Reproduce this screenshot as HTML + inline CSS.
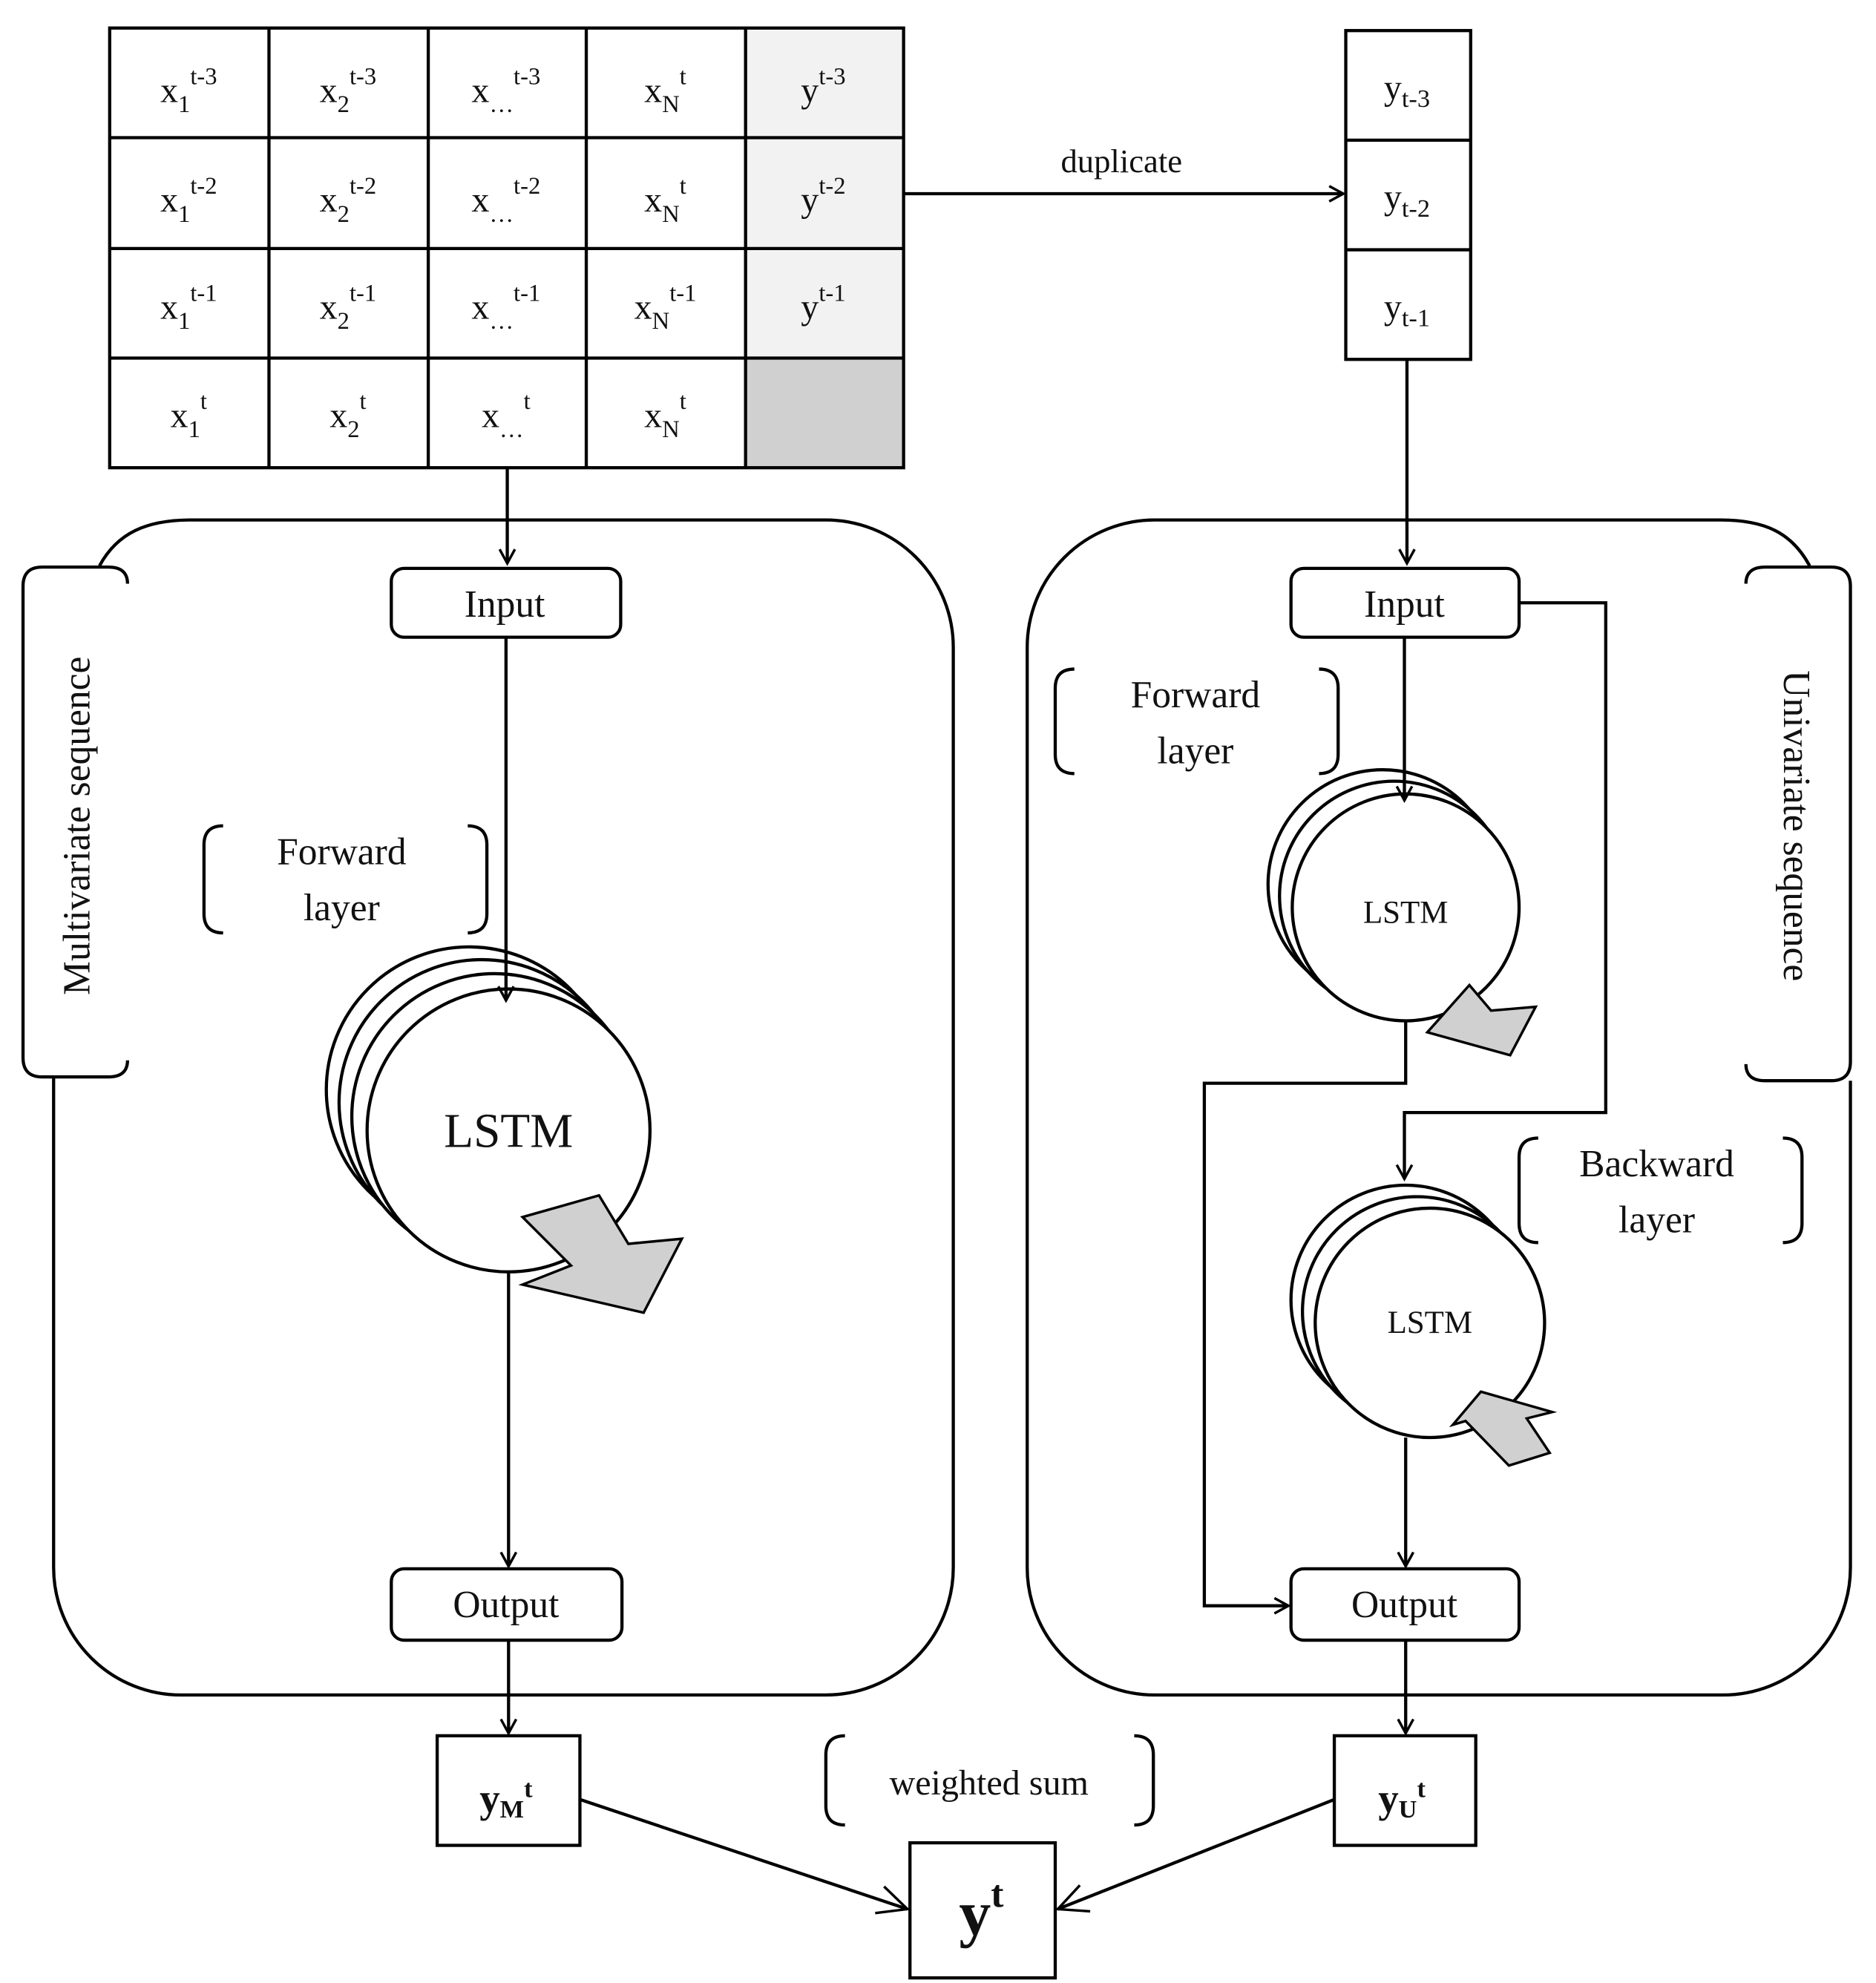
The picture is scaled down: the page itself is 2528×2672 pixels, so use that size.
<!DOCTYPE html>
<html><head><meta charset="utf-8"><style>html,body{margin:0;padding:0;background:#fff}svg{display:block}</style></head>
<body>
<svg width="2528" height="2672" viewBox="0 0 1472 1556" xmlns="http://www.w3.org/2000/svg" font-family="Liberation Serif, serif">
<defs>
<marker id="a" markerWidth="14" markerHeight="14" refX="12" refY="7" orient="auto" markerUnits="userSpaceOnUse">
<path d="M1,1 L12,7 L1,13" fill="none" stroke="#000" stroke-width="2"/></marker>
<marker id="b" markerWidth="26" markerHeight="26" refX="24" refY="13" orient="auto" markerUnits="userSpaceOnUse">
<path d="M1,2 L24,13 L1,24" fill="none" stroke="#000" stroke-width="2"/></marker>
</defs>
<g fill="none" stroke="#000" stroke-width="2.5">
<!-- table -->
<rect x="585" y="22" width="124" height="259" fill="#f2f2f2" stroke="none"/>
<rect x="585" y="281" width="124" height="86" fill="#d0d0d0" stroke="none"/>
<rect x="86" y="22" width="623" height="345"/>
<path d="M211,22V367M336,22V367M460,22V367M585,22V367M86,108H709M86,195H709M86,281H709"/>
<rect x="1056" y="24" width="98" height="258"/>
<path d="M1056,110H1154M1056,196H1154"/>
<!-- boxes -->
<path d="M78,444 C92,418 115,408 150,408 L648,408 A100,100 0 0 1 748,508 L748,1230 A100,100 0 0 1 648,1330 L142,1330 A100,100 0 0 1 42,1230 L42,845"/>
<path d="M100,458 Q100,445 85,445 L33,445 Q18,445 18,460 L18,830 Q18,845 33,845 L85,845 Q100,845 100,832"/>
<path d="M1420,444 C1406,418 1385,408 1350,408 L906,408 A100,100 0 0 0 806,508 L806,1230 A100,100 0 0 0 906,1330 L1352,1330 A100,100 0 0 0 1452,1230 L1452,848"/>
<path d="M1370,458 Q1370,445 1385,445 L1437,445 Q1452,445 1452,460 L1452,833 Q1452,848 1437,848 L1385,848 Q1370,848 1370,835"/>
<rect x="307" y="446" width="180" height="54" rx="10"/>
<rect x="1013" y="446" width="179" height="54" rx="10"/>
<rect x="307" y="1231" width="181" height="56" rx="10"/>
<rect x="1013" y="1231" width="179" height="56" rx="10"/>
<rect x="343" y="1362" width="112" height="86"/>
<rect x="714" y="1446" width="114" height="106"/>
<rect x="1047" y="1362" width="111" height="86"/>
<!-- brackets -->
<path d="M175,648 Q160,648 160,663 L160,717 Q160,732 175,732 M367,648 Q382,648 382,663 L382,717 Q382,732 367,732"/>
<path d="M843,525 Q828,525 828,540 L828,592 Q828,607 843,607 M1035,525 Q1050,525 1050,540 L1050,592 Q1050,607 1035,607"/>
<path d="M1207,893 Q1192,893 1192,908 L1192,960 Q1192,975 1207,975 M1399,893 Q1414,893 1414,908 L1414,960 Q1414,975 1399,975"/>
<path d="M663,1362 Q648,1362 648,1377 L648,1417 Q648,1432 663,1432 M890,1362 Q905,1362 905,1377 L905,1417 Q905,1432 890,1432"/>
<!-- left LSTM -->
<circle cx="368" cy="855" r="112" fill="#fff"/>
<circle cx="378" cy="865" r="112" fill="#fff"/>
<circle cx="388" cy="876" r="112" fill="#fff"/>
<circle cx="399" cy="887" r="111" fill="#fff"/>
<polygon points="410,955 470,938 493,976 535,972 505,1030 410,1008 448,993" fill="#d0d0d0" stroke-width="2"/>
<!-- right forward LSTM -->
<circle cx="1085" cy="694" r="90" fill="#fff"/>
<circle cx="1094" cy="703" r="90" fill="#fff"/>
<circle cx="1103" cy="712" r="89" fill="#fff"/>
<polygon points="1120,810 1153,773 1170,793 1205,790 1185,828" fill="#d0d0d0" stroke-width="2"/>
<!-- right backward LSTM -->
<circle cx="1103" cy="1020" r="90" fill="#fff"/>
<circle cx="1112" cy="1029" r="90" fill="#fff"/>
<circle cx="1122" cy="1038" r="90" fill="#fff"/>
<polygon points="1140,1118 1162,1092 1218,1108 1198,1113 1216,1140 1184,1150 1150,1115" fill="#d0d0d0" stroke-width="2"/>
<!-- connectors -->
<path d="M709,152H1054" marker-end="url(#a)"/>
<path d="M398,367V442" marker-end="url(#a)"/>
<path d="M397,500V785" marker-end="url(#a)"/>
<path d="M399,998V1229" marker-end="url(#a)"/>
<path d="M399,1287V1360" marker-end="url(#a)"/>
<path d="M455,1412L712,1498" marker-end="url(#b)"/>
<path d="M1047,1412L830,1498" marker-end="url(#b)"/>
<path d="M1104,282V442" marker-end="url(#a)"/>
<path d="M1102,500V628" marker-end="url(#a)"/>
<path d="M1103,801V850H945V1260H1011" marker-end="url(#a)"/>
<path d="M1192,473H1260V873H1102V925" marker-end="url(#a)"/>
<path d="M1103,1128V1229" marker-end="url(#a)"/>
<path d="M1103,1287V1360" marker-end="url(#a)"/>
</g>
<g font-size="28" text-anchor="middle" fill="#111">
<text x="148" y="80">x<tspan font-size="19" dy="8">1</tspan><tspan font-size="19" dy="-22">t-3</tspan></text>
<text x="273" y="80">x<tspan font-size="19" dy="8">2</tspan><tspan font-size="19" dy="-22">t-3</tspan></text>
<text x="397" y="80">x<tspan font-size="19" dy="8">…</tspan><tspan font-size="19" dy="-22">t-3</tspan></text>
<text x="522" y="80">x<tspan font-size="19" dy="8">N</tspan><tspan font-size="19" dy="-22">t</tspan></text>
<text x="646" y="80">y<tspan font-size="19" dy="-14">t-3</tspan></text>
<text x="148" y="166">x<tspan font-size="19" dy="8">1</tspan><tspan font-size="19" dy="-22">t-2</tspan></text>
<text x="273" y="166">x<tspan font-size="19" dy="8">2</tspan><tspan font-size="19" dy="-22">t-2</tspan></text>
<text x="397" y="166">x<tspan font-size="19" dy="8">…</tspan><tspan font-size="19" dy="-22">t-2</tspan></text>
<text x="522" y="166">x<tspan font-size="19" dy="8">N</tspan><tspan font-size="19" dy="-22">t</tspan></text>
<text x="646" y="166">y<tspan font-size="19" dy="-14">t-2</tspan></text>
<text x="148" y="250">x<tspan font-size="19" dy="8">1</tspan><tspan font-size="19" dy="-22">t-1</tspan></text>
<text x="273" y="250">x<tspan font-size="19" dy="8">2</tspan><tspan font-size="19" dy="-22">t-1</tspan></text>
<text x="397" y="250">x<tspan font-size="19" dy="8">…</tspan><tspan font-size="19" dy="-22">t-1</tspan></text>
<text x="522" y="250">x<tspan font-size="19" dy="8">N</tspan><tspan font-size="19" dy="-22">t-1</tspan></text>
<text x="646" y="250">y<tspan font-size="19" dy="-14">t-1</tspan></text>
<text x="148" y="335">x<tspan font-size="19" dy="8">1</tspan><tspan font-size="19" dy="-22">t</tspan></text>
<text x="273" y="335">x<tspan font-size="19" dy="8">2</tspan><tspan font-size="19" dy="-22">t</tspan></text>
<text x="397" y="335">x<tspan font-size="19" dy="8">…</tspan><tspan font-size="19" dy="-22">t</tspan></text>
<text x="522" y="335">x<tspan font-size="19" dy="8">N</tspan><tspan font-size="19" dy="-22">t</tspan></text>
<text x="1104" y="78">y<tspan font-size="20" dy="6">t-3</tspan></text>
<text x="1104" y="164">y<tspan font-size="20" dy="6">t-2</tspan></text>
<text x="1104" y="250">y<tspan font-size="20" dy="6">t-1</tspan></text>
<text x="880" y="135" font-size="26">duplicate</text>
<text x="396" y="484" font-size="30">Input</text>
<text x="1102" y="484" font-size="30">Input</text>
<text x="397" y="1269" font-size="30">Output</text>
<text x="1102" y="1269" font-size="30">Output</text>
<text x="268" y="678" font-size="30">Forward</text>
<text x="268" y="722" font-size="30">layer</text>
<text x="938" y="555" font-size="30">Forward</text>
<text x="938" y="599" font-size="30">layer</text>
<text x="1300" y="923" font-size="30">Backward</text>
<text x="1300" y="967" font-size="30">layer</text>
<text x="399" y="900" font-size="38">LSTM</text>
<text x="1103" y="724" font-size="25">LSTM</text>
<text x="1122" y="1046" font-size="25">LSTM</text>
<text x="776" y="1408" font-size="28">weighted sum</text>
<text x="397" y="1422" font-size="32" font-weight="bold">y<tspan font-size="20" dy="4">M</tspan><tspan font-size="20" dy="-16">t</tspan></text>
<text x="1100" y="1422" font-size="32" font-weight="bold">y<tspan font-size="20" dy="4">U</tspan><tspan font-size="20" dy="-16">t</tspan></text>
<text x="770" y="1518" font-size="50" font-weight="bold">y<tspan font-size="30" dy="-22">t</tspan></text>
<text transform="translate(70,648) rotate(-90)" font-size="30">Multivariate sequence</text>
<text transform="translate(1400,648) rotate(90)" font-size="30">Univariate sequence</text>
</g>
</svg>
</body></html>
